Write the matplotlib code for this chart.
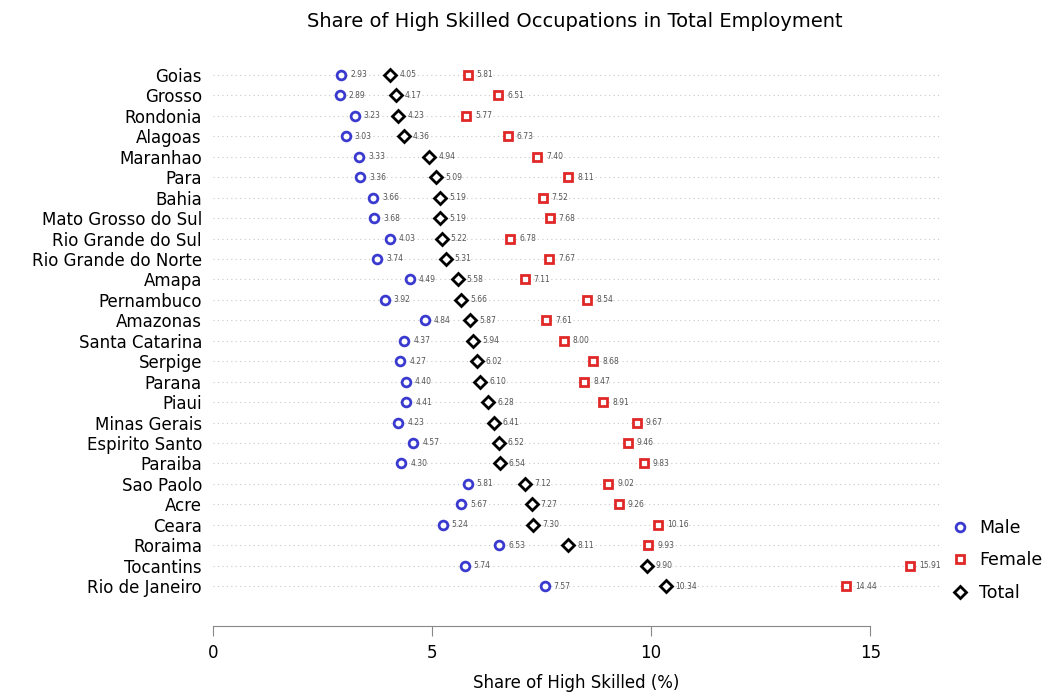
import matplotlib
matplotlib.use("Agg")
import matplotlib.pyplot as plt
import numpy as np

# states, top to bottom
states = ["Goias", "Grosso", "Rondonia", "Alagoas", "Maranhao", "Para", "Bahia",
          "Mato Grosso do Sul", "Rio Grande do Sul", "Rio Grande do Norte", "Amapa",
          "Pernambuco", "Amazonas", "Santa Catarina", "Serpige", "Parana", "Piaui",
          "Minas Gerais", "Espirito Santo", "Paraiba", "Sao Paolo", "Acre", "Ceara",
          "Roraima", "Tocantins", "Rio de Janeiro"]
male = [2.93, 2.89, 3.23, 3.03, 3.33, 3.36, 3.66, 3.68, 4.03, 3.74, 4.49, 3.92, 4.84,
        4.37, 4.27, 4.40, 4.41, 4.23, 4.57, 4.30, 5.81, 5.67, 5.24, 6.53, 5.74, 7.57]
female = [5.81, 6.51, 5.77, 6.73, 7.40, 8.11, 7.52, 7.68, 6.78, 7.67, 7.11, 8.54, 7.61,
          8.00, 8.68, 8.47, 8.91, 9.67, 9.46, 9.83, 9.02, 9.26, 10.16, 9.93, 15.91, 14.44]
total = [4.05, 4.17, 4.23, 4.36, 4.94, 5.09, 5.19, 5.19, 5.22, 5.31, 5.58, 5.66, 5.87,
         5.94, 6.02, 6.10, 6.28, 6.41, 6.52, 6.54, 7.12, 7.27, 7.30, 8.11, 9.90, 10.34]

fig = plt.figure(figsize=(10.51, 6.97), dpi=100)
ax = fig.add_axes([0.2027, 0.1392, 0.692, 0.772])

y = np.arange(len(states))
for yy in y:
    ax.axhline(yy, color="#c8c8c8", lw=0.8, ls=(0, (1, 3)), zorder=0)

series = [("Male", male, "o", "#3a3ad0"), ("Female", female, "s", "#e02828"),
          ("Total", total, "D", "black")]
handles = []
for name, vals, mk, col in series:
    h, = ax.plot(vals, y, ls="none", marker=mk, mfc="white", mec=col, mew=2,
                 ms=6.3 if mk != "D" else 6, label=name, zorder=3)
    handles.append(h)
    for v, yy in zip(vals, y):
        ax.annotate(f"{v:.2f}", (v, yy), xytext=(6.5, 0), textcoords="offset points",
                    va="center", ha="left", fontsize=5.5, color="#555555")

ax.set_xlim(0, 16.6)
ax.set_ylim(25.68, -0.64)
ax.set_yticks(y)
ax.set_yticklabels(states, fontsize=12)
ax.tick_params(axis="y", length=0, pad=8)
ax.set_xticks([0, 5, 10, 15])
ax.tick_params(axis="x", labelsize=12, length=7, color="#888888", pad=6)
for s in ["top", "right", "left"]:
    ax.spines[s].set_visible(False)
ax.spines["bottom"].set_position(("outward", 19))
ax.spines["bottom"].set_bounds(0, 15)
ax.spines["bottom"].set_color("#888888")
ax.set_xlabel("Share of High Skilled (%)", fontsize=12, labelpad=8)

fig.suptitle("Share of High Skilled Occupations in Total Employment", fontsize=14,
             x=0.547, y=0.983)

fig.legend(handles=handles, loc="center left", bbox_to_anchor=(0.889, 0.196),
           frameon=False, fontsize=12.5, handletextpad=0.5, labelspacing=0.85,
           handlelength=1.2)

fig.savefig("out.png", dpi=100)
